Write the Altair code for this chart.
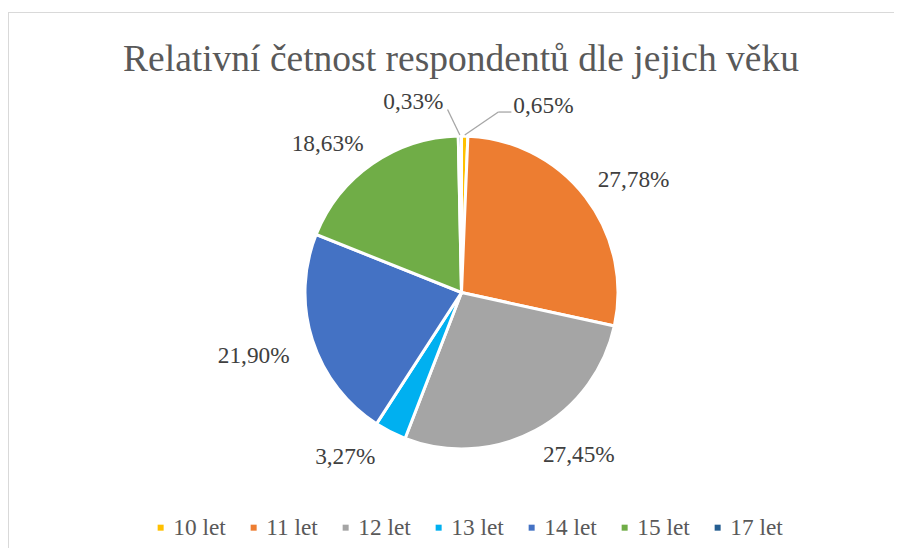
import altair as alt
import pandas as pd

# ---- data ----
ages = ["10 let", "11 let", "12 let", "13 let", "14 let", "15 let", "17 let"]
shares = [0.65, 27.78, 27.45, 3.27, 21.90, 18.63, 0.33]
colors = ["#FFC000", "#ED7D31", "#A5A5A5", "#00B0F0", "#4472C4", "#70AD47", "#255E91"]
title_text = "Relativní četnost respondentů dle jejich věku"

df = pd.DataFrame({"age": ages, "share": shares, "idx": list(range(len(ages)))})
df["label"] = [f"{v:.2f}".replace(".", ",") + "%" for v in shares]

# ---- layout / style ----
W, H = 886, 536
CX, CY = 453.5, 280.5          # pie centre inside the view
R = 156.5
FONT = "Liberation Serif, Times New Roman, serif"
FS = 23.3
LBL_R = 172
SMALL_R = 189
cx = alt.value(CX)
cy = alt.value(CY)

base = (
    alt.Chart(df)
    .transform_joinaggregate(total="sum(share)")
    .transform_window(cum="sum(share)", sort=[alt.SortField("idx")], frame=[None, 0])
    .transform_calculate(mid="(datum.cum - datum.share / 2) / datum.total * 2 * PI")
    .transform_calculate(
        quad="(sin(datum.mid) > 0 ? 'R' : 'L') + (cos(datum.mid) > 0 ? 'T' : 'B')"
    )
)

theta = alt.Theta("share:Q", stack=True)
order = alt.Order("idx:Q")

pie = base.mark_arc(outerRadius=R, stroke="white", strokeWidth=3).encode(
    theta=theta,
    order=order,
    x=cx,
    y=cy,
    color=alt.Color(
        "age:N",
        scale=alt.Scale(domain=ages, range=colors),
        sort=ages,
        legend=alt.Legend(
            orient="none",
            legendX=141,
            legendY=504,
            direction="horizontal",
            title=None,
            symbolType="square",
            symbolSize=36,
            symbolStrokeWidth=0,
            labelFont=FONT,
            labelFontSize=FS,
            labelColor="#595959",
            labelOffset=1,
            columnPadding=16,
            padding=0,
        ),
    ),
)


def label_layer(test, align, baseline, radius, dx=0, dy=0):
    return base.mark_text(
        radius=radius, align=align, baseline=baseline, dx=dx, dy=dy,
        font=FONT, fontSize=FS, color="#404040",
    ).encode(
        theta=theta,
        order=order,
        x=cx,
        y=cy,
        text=alt.condition(test, alt.Text("label:N"), alt.value("")),
    )


big_rt = label_layer("datum.share >= 1 && datum.quad == 'RT'", "left", "alphabetic", LBL_R)
big_rb = label_layer("datum.share >= 1 && datum.quad == 'RB'", "left", "top", LBL_R)
big_lb = label_layer("datum.share >= 1 && datum.quad == 'LB'", "right", "top", LBL_R, dx=-8)
big_lt = label_layer("datum.share >= 1 && datum.quad == 'LT'", "right", "alphabetic", LBL_R)
small_r = label_layer("datum.share < 1 && datum.quad == 'RT'", "left", "middle", SMALL_R, dx=48, dy=2)
small_l = label_layer("datum.share < 1 && datum.quad == 'LT'", "right", "middle", SMALL_R, dx=-16, dy=-2)

# leader lines for the two tiny slices
lead = (
    base.transform_filter("datum.share < 1")
    .transform_calculate(
        x0=f"{CX} + {R + 1} * sin(datum.mid)",
        y0=f"{CY} - {R + 1} * cos(datum.mid)",
        ax=f"{CX} + {SMALL_R} * sin(datum.mid)",
        ay=f"{CY} - {SMALL_R} * cos(datum.mid)",
    )
    .transform_calculate(
        x1="datum.quad == 'RT' ? datum.ax + 33 : datum.ax - 12",
        y1="datum.quad == 'RT' ? datum.ay + 8.5 : datum.ay + 6",
        x2="datum.quad == 'RT' ? datum.ax + 46 : datum.ax - 12",
    )
)
lead_diag = lead.mark_rule(color="#A6A6A6", strokeWidth=1.3).encode(
    x=alt.X("x0:Q", scale=None, axis=None),
    y=alt.Y("y0:Q", scale=None, axis=None),
    x2="x1:Q",
    y2="y1:Q",
)
lead_horiz = lead.mark_rule(color="#A6A6A6", strokeWidth=1.3).encode(
    x=alt.X("x1:Q", scale=None, axis=None),
    y=alt.Y("y1:Q", scale=None, axis=None),
    x2="x2:Q",
    y2="y1:Q",
)

# chart-area frame (top and left edges; the others run off the page in the reference)
frame_top = alt.Chart(df).mark_rule(color="#D9D9D9", strokeWidth=1).encode(
    x=alt.value(0), x2=alt.value(W), y=alt.value(0.5)
)
frame_left = alt.Chart(df).mark_rule(color="#D9D9D9", strokeWidth=1).encode(
    x=alt.value(0.5), y=alt.value(0), y2=alt.value(H)
)

chart = (
    alt.layer(frame_top, frame_left, pie, big_rt, big_rb, big_lb, big_lt,
              small_r, small_l, lead_diag, lead_horiz)
    .properties(
        width=W,
        height=H,
        title=alt.TitleParams(
            title_text,
            font=FONT,
            fontSize=37.5,
            fontWeight="normal",
            color="#595959",
            anchor="middle",
            orient="top",
            offset=0,
            baseline="alphabetic",
            dy=97,
            dx=10,
        ),
        autosize=alt.AutoSizeParams(type="none"),
        padding={"left": 0, "top": 4, "right": 0, "bottom": 0},
    )
    .configure_view(stroke=None)
)

chart.save("out.html", embed_options={"renderer": "svg", "actions": False})
